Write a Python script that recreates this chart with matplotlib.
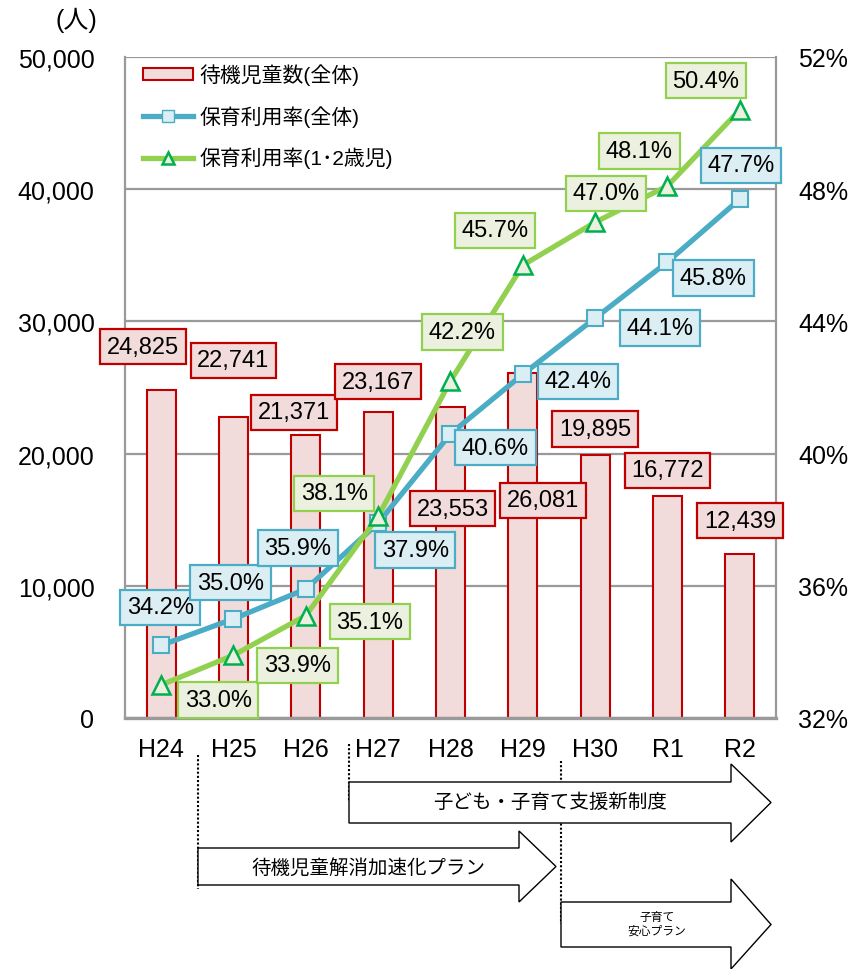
import matplotlib
matplotlib.use("Agg")
import matplotlib.pyplot as plt
from matplotlib.patches import Polygon, Patch
from matplotlib.lines import Line2D
import numpy as np

plt.rcParams['font.family'] = ['Liberation Sans', 'Noto Sans CJK JP', 'DejaVu Sans']

# 年度ごとの値
years = ['H24', 'H25', 'H26', 'H27', 'H28', 'H29', 'H30', 'R1', 'R2']
waiting = [24825, 22741, 21371, 23167, 23553, 26081, 19895, 16772, 12439]
rate_all = [34.2, 35.0, 35.9, 37.9, 40.6, 42.4, 44.1, 45.8, 47.7]
rate_12 = [33.0, 33.9, 35.1, 38.1, 42.2, 45.7, 47.0, 48.1, 50.4]

# ラベルのずらし量(ピクセル)
off_waiting = [(-18, 43), (0, 57), (-12, 23), (0, 30), (2, -102),
               (20, -127), (0, 26), (0, 26), (0, 33)]
off_all = [(-1, 38), (-3, 36), (-8, 41), (37, -27), (45, -14),
           (55, -7), (65, -10), (46, -16), (1, 34)]
off_12 = [(57, -15), (64, -10), (64, -6), (-44, 23), (12, 49),
          (-28, 35), (11, 29), (-28, 35), (-34, 29)]

RED, PINK = '#c00000', '#f2dcdb'
BLUE, LBLUE = '#4bacc6', '#dbeef4'
GREEN, DGREEN, LGREEN = '#92d050', '#00b050', '#ebf1de'
GRID = '#9a9a9a'

W, H = 849, 970
fig = plt.figure(figsize=(W / 100, H / 100), dpi=100)
ax = fig.add_axes([125 / W, 1 - 719 / H, 651 / W, 661 / H])
x = np.arange(len(years))

ax.bar(x, waiting, width=0.40, color=PINK, edgecolor=RED, linewidth=1.5, zorder=2)
ax.set_xlim(-0.5, len(years) - 0.5)
ax.set_ylim(0, 50000)
ax.set_yticks(range(0, 50001, 10000))
ax.set_yticklabels([f'{v:,}' for v in range(0, 50001, 10000)])
ax.set_xticks(x)
ax.set_xticklabels(years)
ax.yaxis.grid(True, color=GRID, linewidth=1.6, zorder=0)
ax.set_axisbelow(True)
ax.tick_params(axis='y', length=0, pad=22, labelsize=18)
ax.tick_params(axis='x', length=0, pad=14, labelsize=18)
ax.spines['top'].set_visible(False)
ax.spines['left'].set_color(GRID)
ax.spines['left'].set_linewidth(1.6)
ax.spines['right'].set_color(GRID)
ax.spines['right'].set_linewidth(1.6)
ax.spines['bottom'].set_color(GRID)
ax.spines['bottom'].set_linewidth(2.4)

ax2 = ax.twinx()
ax2.set_ylim(32, 52)
ax2.set_yticks(range(32, 53, 4))
ax2.set_yticklabels([f'{v}%' for v in range(32, 53, 4)])
ax2.tick_params(axis='y', length=0, pad=16, labelsize=18)
for s in ax2.spines.values():
    s.set_visible(False)

ax2.plot(x, rate_all, color=BLUE, linewidth=3.8, marker='s', markersize=11,
         markerfacecolor=LBLUE, markeredgecolor=BLUE, markeredgewidth=1.5, zorder=3)
ax2.plot(x, rate_12, color=GREEN, linewidth=3.8, marker='^', markersize=13,
         markerfacecolor=LGREEN, markeredgecolor=DGREEN, markeredgewidth=1.8, zorder=4)


def box_label(text, xy, trans, off, face, edge):
    ax2.annotate(text, xy=xy, xycoords=trans, xytext=off, textcoords='offset pixels',
                 ha='center', va='center', fontsize=17, zorder=10,
                 bbox=dict(boxstyle='square,pad=0.28', facecolor=face,
                           edgecolor=edge, linewidth=1.6))


for i in range(len(years)):
    box_label(f'{waiting[i]:,}', (x[i], waiting[i]), ax.transData, off_waiting[i], PINK, RED)
    box_label(f'{rate_all[i]:.1f}%', (x[i], rate_all[i]), ax2.transData, off_all[i], LBLUE, BLUE)
    box_label(f'{rate_12[i]:.1f}%', (x[i], rate_12[i]), ax2.transData, off_12[i], LGREEN, GREEN)

handles = [
    Patch(facecolor=PINK, edgecolor=RED, linewidth=1.5),
    Line2D([], [], color=BLUE, linewidth=3.8, marker='s', markersize=9,
           markerfacecolor=LBLUE, markeredgecolor=BLUE),
    Line2D([], [], color=GREEN, linewidth=3.8, marker='^', markersize=9,
           markerfacecolor=LGREEN, markeredgecolor=DGREEN, markeredgewidth=1.8),
]
labels = ['待機児童数(全体)', '保育利用率(全体)', '保育利用率(1･2歳児)']
leg = ax2.legend(handles, labels, loc='upper left', bbox_to_anchor=(0.027, 0.99),
                 frameon=False, fontsize=15, borderpad=0, borderaxespad=0,
                 handlelength=2.4, handleheight=0.45, handletextpad=0.35,
                 labelspacing=0.95)
leg.set_zorder(20)

fig.text(76 / W, 1 - 20 / H, '(人)', ha='center', va='center', fontsize=18)

# 下の制度の矢印(ピクセル座標)
ov = fig.add_axes([0, 0, 1, 1])
ov.set_xlim(0, W)
ov.set_ylim(H, 0)
ov.axis('off')


def arrow(x0, yt, yb, xh, yht, yhb, xtip):
    ym = (yt + yb) / 2
    pts = [(x0, yt), (xh, yt), (xh, yht), (xtip, ym), (xh, yhb), (xh, yb), (x0, yb)]
    ov.add_patch(Polygon(pts, closed=True, facecolor='white', edgecolor='black',
                         linewidth=1.0, zorder=2))


for xd, y0, y1 in [(198, 756, 890), (349, 745, 803), (561, 762, 925)]:
    ov.plot([xd, xd], [y0, y1], color='black', linestyle=(0, (1, 1)), linewidth=1.5, zorder=1)

arrow(349, 783, 824, 731, 765, 843, 771)
arrow(198, 849, 886, 519, 832, 903, 556)
arrow(561, 903, 948, 731, 880, 970, 771)

ov.text(550, 803, '子ども・子育て支援新制度', ha='center', va='center', fontsize=14, zorder=3)
ov.text(368, 868, '待機児童解消加速化プラン', ha='center', va='center', fontsize=14, zorder=3)
ov.text(657, 925, '子育て\n安心プラン', ha='center', va='center', fontsize=8.5,
        linespacing=1.2, zorder=3)

fig.savefig('out.png', dpi=100)
